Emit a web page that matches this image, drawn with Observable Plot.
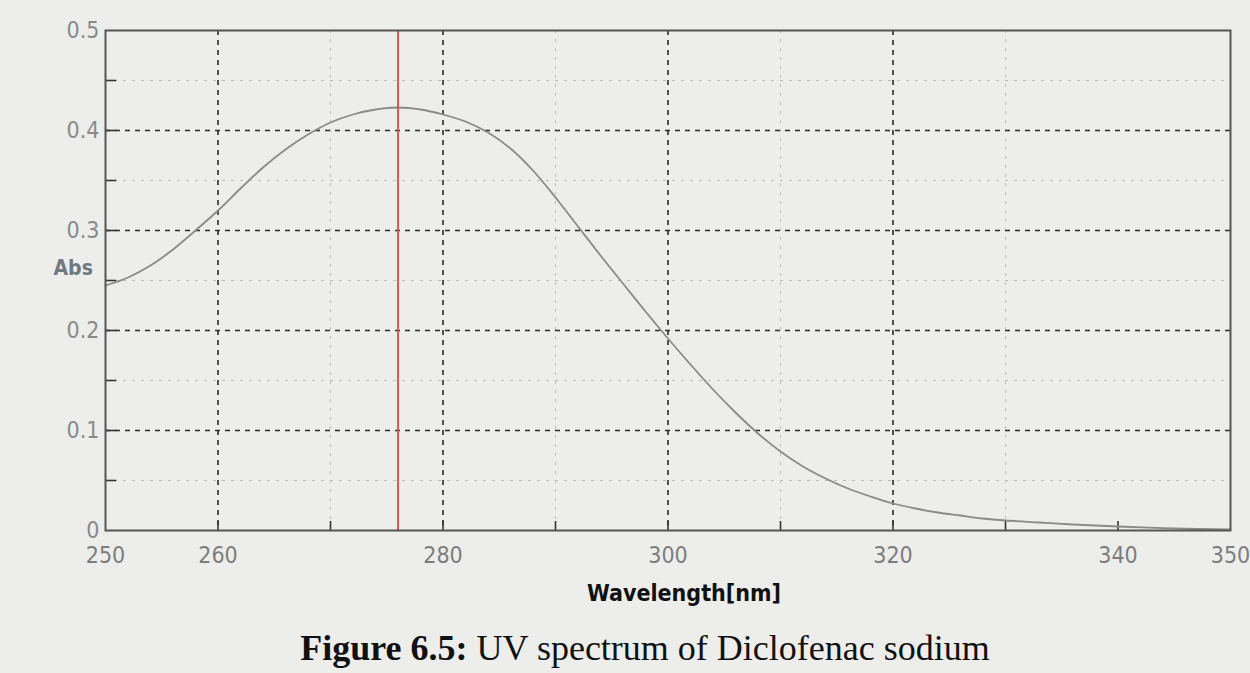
<!DOCTYPE html>
<html>
<head>
<meta charset="utf-8">
<script src="https://cdn.jsdelivr.net/npm/d3@7"></script>
<script src="https://cdn.jsdelivr.net/npm/@observablehq/plot@0.6"></script>
<style>
  html, body { margin: 0; padding: 0; background: #ededeb; }
  #chart { width: 1250px; height: 612px; }
  #caption { font-family: "Liberation Serif", "DejaVu Serif", serif; font-size: 36px; line-height: 40px; color: #111; text-align: center; width: 1250px; padding-left: 40px; box-sizing: border-box; margin-top: 16px; }
</style>
</head>
<body>
<div id="chart"></div>
<div id="caption"><b>Figure 6.5:</b> UV spectrum of Diclofenac sodium</div>
<script>
// Wavelength (nm) and absorbance
const wavelength = [250,252,254,256,258,260,262,264,266,268,270,272,274,276,278,280,282,284,286,288,290,292,294,296,298,300,302,304,306,308,310,312,314,316,318,320,322,324,326,328,330,333,336,340,345,350];
const absorbance = [0.245,0.253,0.265,0.281,0.300,0.320,0.342,0.363,0.381,0.396,0.408,0.416,0.421,0.423,0.421,0.416,0.409,0.398,0.382,0.360,0.333,0.304,0.275,0.247,0.219,0.192,0.166,0.141,0.118,0.097,0.079,0.064,0.052,0.042,0.034,0.027,0.022,0.018,0.015,0.012,0.010,0.008,0.006,0.004,0.002,0.001];
const lambdaMax = [276];
const xTickLabels = [250,260,280,300,320,340,350];
const xMinorTicks = [260,270,280,290,300,310,320,330,340];
const xMajorGrid = [260,280,300,320];
const xMinorGrid = [270,290,310,330];
const yTickLabels = [0,0.1,0.2,0.3,0.4,0.5];
const yMajorGrid = [0.1,0.2,0.3,0.4];
const yMinorGrid = [0.05,0.15,0.25,0.35,0.45];
const yTicks = [0.05,0.1,0.15,0.2,0.25,0.3,0.35,0.4,0.45];

const spectrum = wavelength.map((w, i) => ({w, a: absorbance[i]}));
const narrow = '"DejaVu Sans Condensed", "Liberation Sans Narrow", "Liberation Sans", sans-serif';

const plot = Plot.plot({
  width: 1250,
  height: 612,
  marginLeft: 105,
  marginRight: 20,
  marginTop: 30,
  marginBottom: 82,
  style: {background: "transparent", fontFamily: narrow},
  x: {domain: [250, 350]},
  y: {domain: [0, 0.5]},
  marks: [
    Plot.ruleY(yMinorGrid, {stroke: "#b9b9b9", strokeWidth: 1.2, strokeDasharray: "3,6"}),
    Plot.ruleX(xMinorGrid, {stroke: "#c4c4c4", strokeWidth: 1.2, strokeDasharray: "3,6"}),
    Plot.ruleY(yMajorGrid, {stroke: "#2a2a2a", strokeWidth: 1.6, strokeDasharray: "5,5"}),
    Plot.ruleX(xMajorGrid, {stroke: "#2a2a2a", strokeWidth: 1.6, strokeDasharray: "5,5"}),
    Plot.ruleX(xMinorTicks, {y1: 0, y2: 0.009, stroke: "#333", strokeWidth: 1.6}),
    Plot.ruleY(yTicks, {x1: 250, x2: 251, stroke: "#333", strokeWidth: 1.6}),
    Plot.line(spectrum, {x: "w", y: "a", stroke: "#8a8a8a", strokeWidth: 1.8, curve: "catmull-rom"}),
    Plot.ruleX(lambdaMax, {stroke: "#e2473c", strokeWidth: 1.8}),
    Plot.frame({stroke: "#555", strokeWidth: 2}),
    Plot.axisX({ticks: xTickLabels, tickSize: 0, tickPadding: 16, fontSize: 23, color: "#7d7d7d", label: null}),
    Plot.axisY({ticks: yTickLabels, tickSize: 0, tickPadding: 6, fontSize: 23, color: "#8a8a8a", label: null, tickFormat: d => String(d)}),
    Plot.text(["Abs"], {frameAnchor: "left", dx: -52, dy: -12, fontSize: 21, fill: "#6f7a80", fontWeight: "bold"}),
    Plot.text(["Wavelength[nm]"], {frameAnchor: "bottom", dx: 16, dy: 70, fontSize: 23, fill: "#111", fontWeight: "bold"})
  ]
});
document.getElementById("chart").append(plot);
</script>
</body>
</html>
